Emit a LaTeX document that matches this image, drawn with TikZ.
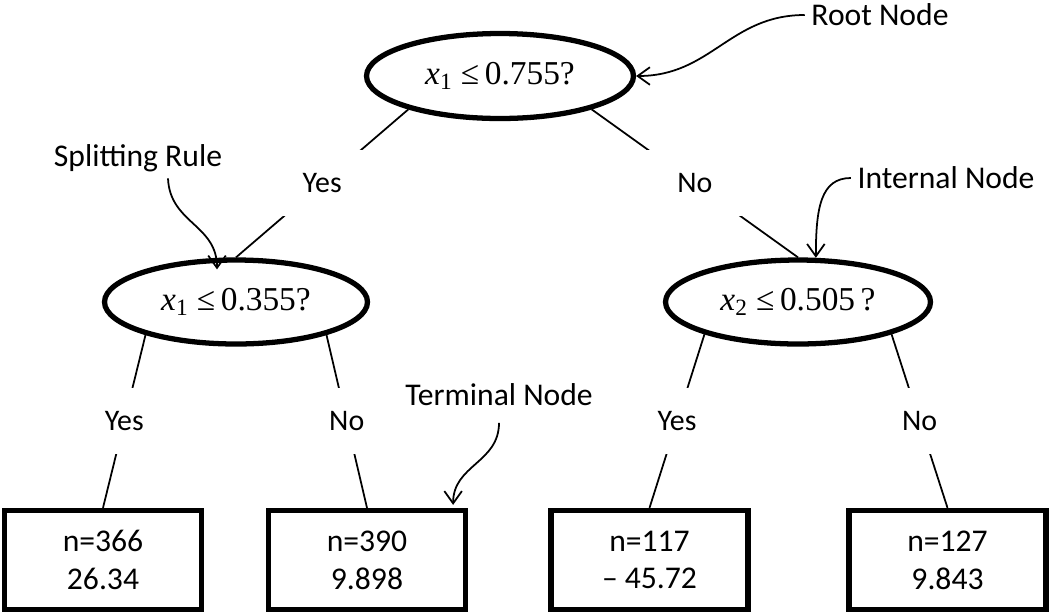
\documentclass[tikz,border=0pt]{standalone}
\usepackage{fontspec}
\setmainfont{Carlito}
\newfontfamily\eqfont{Liberation Serif}
\usepackage{tikz}
\usetikzlibrary{shapes,arrows.meta}

\tikzset{
    question/.style={shape=ellipse, draw=black, line width=3pt, inner sep=0pt, font=\eqfont\fontsize{19}{22}\selectfont},
    leaf/.style={draw=black, line width=3pt, minimum width=3.94cm, minimum height=1.98cm, align=center, font=\fontsize{18}{21.5}\selectfont},
    answer/.style={fill=white, minimum width=2cm, minimum height=1.32cm, font=\fontsize{17}{20}\selectfont},
    note/.style={font=\fontsize{18}{21}\selectfont},
}

\begin{document}
\begin{tikzpicture}[x=0.02cm, y=-0.02cm, line width=1pt, >={Straight Barb[length=7pt,width=10pt]}]
    \useasboundingbox (0,0) rectangle (1050,613);

    \node[question, minimum width=5.34cm, minimum height=1.7cm] (root) at (500,76) {\textit{x}\textsubscript{1} ≤\,0.755?\hspace{0.3cm}};
    \node[question, minimum width=5.26cm, minimum height=1.68cm] (splitA) at (236,302) {\textit{x}\textsubscript{1} ≤\,0.355?\hspace{0.7cm}};
    \node[question, minimum width=5.3cm, minimum height=1.68cm] (splitB) at (798,302) {\textit{x}\textsubscript{2} ≤\,0.505\,?\hspace{0.35cm}};

    \node[leaf] (leafA) at (103,560) {n=366\\26.34};
    \node[leaf] (leafB) at (367,560) {n=390\\9.898};
    \node[leaf] (leafC) at (649.5,560) {n=117\\– 45.72};
    \node[leaf] (leafD) at (947.5,560) {n=127\\9.843};

    % branches, labels cut the line
    \draw (root.200) -- node[answer] {Yes} (splitA.north);
    \draw (root.340) -- node[answer] {No} (splitB.north);
    \draw (splitA.200) -- node[answer] {Yes} (leafA.north);
    \draw (splitA.340) -- node[answer] {No} (leafB.north);
    \draw (splitB.199) -- node[answer] {Yes} (leafC.north);
    \draw (splitB.341) -- node[answer] {No} (leafD.north);

    % annotations
    \node[note] (rootTxt) at (880,15) {Root Node};
    \node[note] (ruleTxt) at (138,158) {Splitting Rule};
    \node[note] (innerTxt) at (946,178) {Internal Node};
    \node[note] (termTxt) at (499,395) {Terminal Node};

    \draw[->] (rootTxt.west) .. controls +(-75,0) and +(75,0) .. (root.east);
    \draw[->] (innerTxt.west) .. controls +(-30,0) and +(0,-50) .. (splitB.68);
    \draw[->] ([xshift=0.6cm]ruleTxt.south) .. controls +(2,45) and +(0,-45) .. ([shift={(-19,12)}]splitA.north);
    \draw[->] ([yshift=-0.2cm]termTxt.south) .. controls +(0,40) and +(0,-40) .. ([shift={(-15,-3)}]leafB.north east);
\end{tikzpicture}
\end{document}
